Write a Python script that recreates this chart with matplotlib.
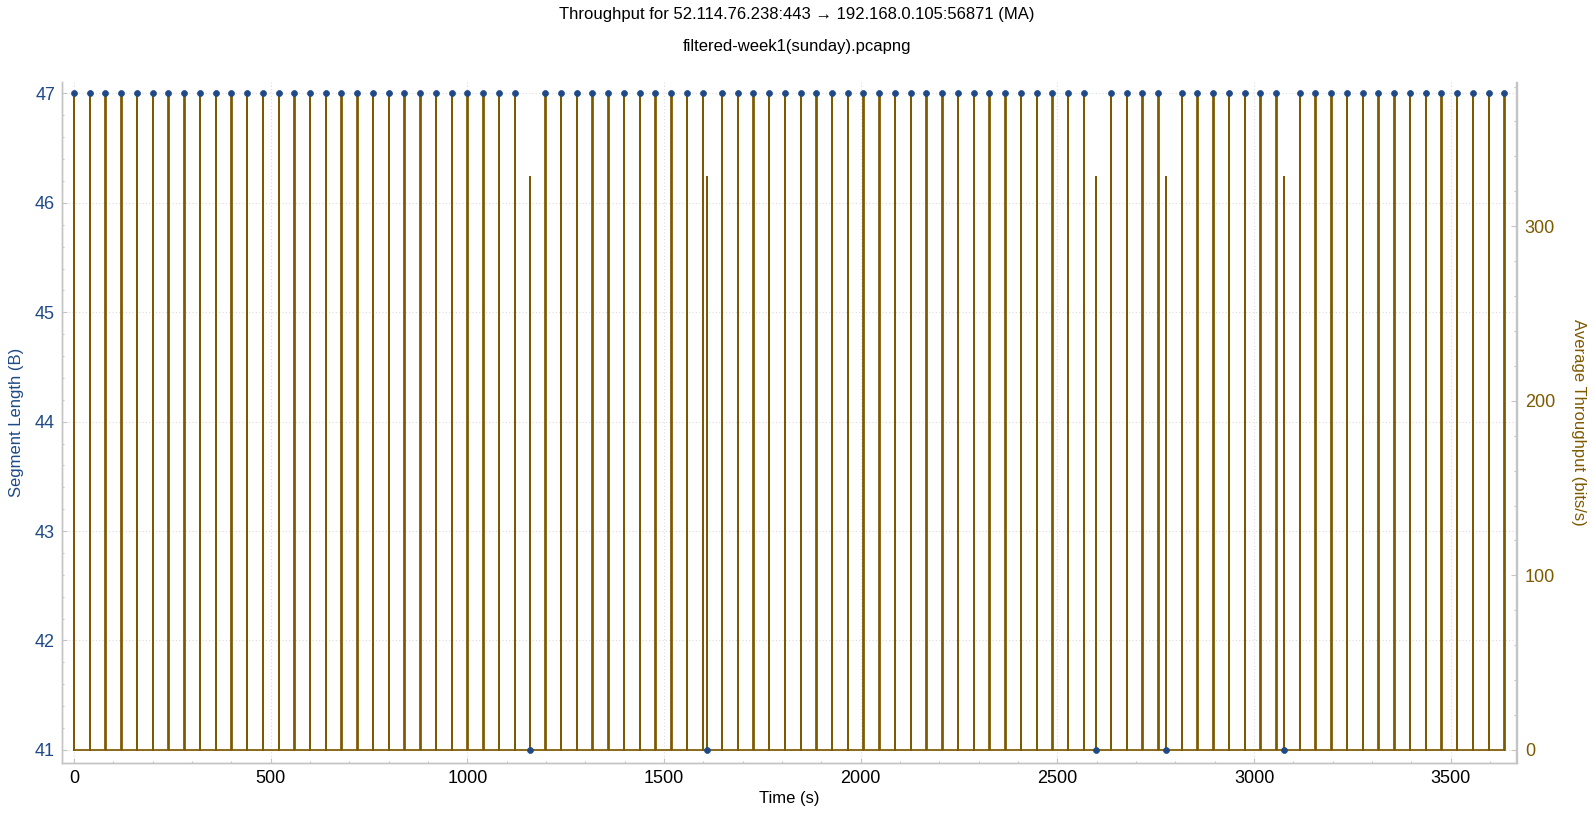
import numpy as np
import matplotlib.pyplot as plt
import matplotlib.transforms as mtransforms
from matplotlib.ticker import MultipleLocator

plt.rcParams['font.family'] = ['Liberation Sans', 'DejaVu Sans']

# packet times (s)
times_47 = [0, 40, 80, 120, 160, 200, 240, 280, 320, 360, 400, 440, 480, 520,
            560, 600, 640, 680, 720, 760, 800, 840, 880, 920, 960, 1000, 1040,
            1080, 1120,
            1198, 1238, 1278, 1318, 1358, 1398, 1438, 1478, 1518, 1558, 1598,
            1647, 1687, 1727, 1767, 1807, 1847, 1887, 1927, 1967, 2007, 2047,
            2087, 2127, 2167, 2207, 2247, 2287, 2327, 2367, 2407, 2447, 2487,
            2527, 2567,
            2636, 2676, 2716, 2756,
            2816, 2856, 2896, 2936, 2976, 3016, 3056,
            3116, 3156, 3196, 3236, 3276, 3316, 3356, 3396, 3436, 3476, 3516,
            3556, 3596, 3636]
times_41 = [1159, 1608, 2597, 2776, 3076]
LEN_BIG = 47
LEN_SMALL = 41
ma_window = 1.0  # seconds

title1 = 'Throughput for 52.114.76.238:443 \u2192 192.168.0.105:56871 (MA)'
title2 = 'filtered-week1(sunday).pcapng'

blue = '#204a87'
brown = '#7d5a00'
frame = '#c4c4c4'
gridc = '#dcdcdc'

pkt_t = np.array(times_47 + times_41, dtype=float)
pkt_len = np.array([LEN_BIG] * len(times_47) + [LEN_SMALL] * len(times_41))
order = np.argsort(pkt_t)
pkt_t = pkt_t[order]
pkt_len = pkt_len[order]

# moving average throughput, bits/s
tx, ty = [], []
for t, l in zip(pkt_t, pkt_len):
    bits = l * 8 / ma_window
    tx += [t, t, t + ma_window, t + ma_window]
    ty += [0, bits, bits, 0]

W, H = 1594, 817
fig = plt.figure(figsize=(W / 100, H / 100), dpi=100)
ax = fig.add_axes([62 / W, 1 - 763 / H, (1516.5 - 62) / W, (763 - 82) / H])
ax2 = ax.twinx()

ax.set_xlim(-30.5, 3667)
ax.set_ylim(40.88, 47.105)
ax2.set_ylim(-7.45, 382.6)

ax.xaxis.set_major_locator(MultipleLocator(500))
ax.xaxis.set_minor_locator(MultipleLocator(100))
ax.yaxis.set_major_locator(MultipleLocator(1))
ax.yaxis.set_minor_locator(MultipleLocator(0.2))
ax2.yaxis.set_major_locator(MultipleLocator(100))
ax2.yaxis.set_minor_locator(MultipleLocator(20))

# faint grid drawn under the throughput trace
gkw = dict(color=gridc, lw=0.8, ls=(0, (1, 2)), zorder=0)
for xv in np.arange(0, 3667, 500):
    ax2.axvline(xv, **gkw)
ytr = mtransforms.blended_transform_factory(ax2.transAxes, ax.transData)
for yv in range(41, 48):
    ax2.plot([0, 1], [yv, yv], transform=ytr, **gkw)

ax2.plot(tx, ty, color=brown, lw=1.25, zorder=2)
ax.plot(pkt_t, pkt_len, 'o', color=blue, ms=4.3, mec=blue, mew=0.5)
ax.set_zorder(ax2.get_zorder() + 1)
ax.patch.set_visible(False)

for a in (ax, ax2):
    for s in a.spines.values():
        s.set_color(frame)
        s.set_linewidth(1.0)
    a.spines['top'].set_visible(False)
    a.tick_params(which='major', direction='in', length=3.6, width=0.8, color=frame)
    a.tick_params(which='minor', direction='in', length=1.6, width=0.8, color=frame)

ax.tick_params(axis='x', labelsize=13, pad=5, labelcolor='black')
ax.tick_params(axis='y', labelsize=13, pad=5, labelcolor=blue)
ax2.tick_params(axis='y', labelsize=13, pad=6, labelcolor=brown)

ax.set_xlabel('Time (s)', fontsize=12, labelpad=3)
ax.set_ylabel('Segment Length (B)', fontsize=12, color=blue, labelpad=8)
ax2.set_ylabel('Average Throughput (bits/s)', fontsize=12, color=brown,
               rotation=-90, labelpad=22)

fig.text(0.5, 1 - 14 / H, title1, ha='center', va='center', fontsize=12)
fig.text(0.5, 1 - 47 / H, title2, ha='center', va='center', fontsize=12)

fig.savefig('out.png', dpi=100)
